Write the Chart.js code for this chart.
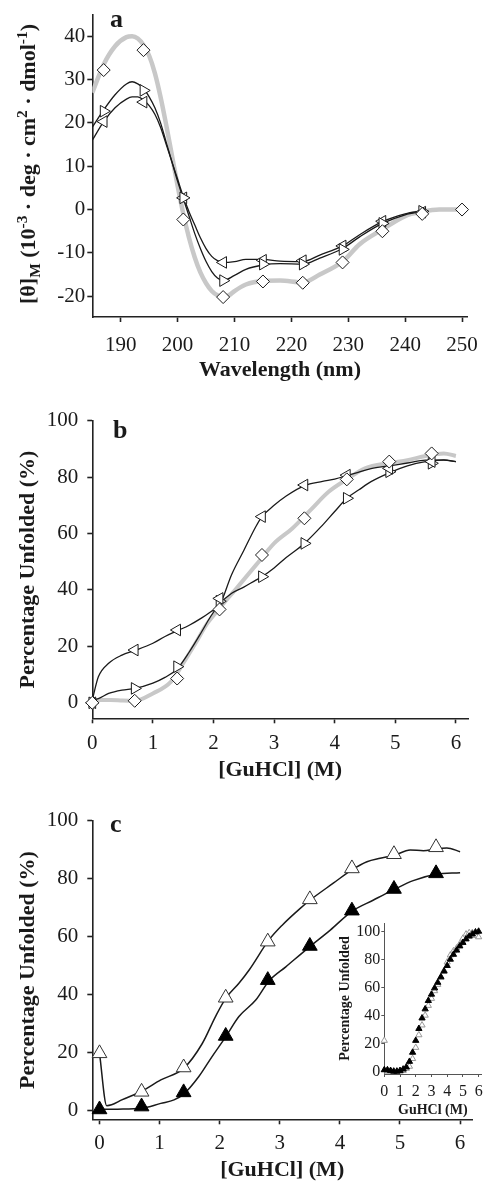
<!DOCTYPE html>
<html>
<head>
<meta charset="utf-8">
<script src="https://cdn.jsdelivr.net/npm/chart.js@4.4.1/dist/chart.umd.min.js"></script>
<style>
  html, body { margin: 0; padding: 0; background: #fff; }
  #wrap { position: relative; width: 489px; height: 1184px; overflow: hidden; }
  #wrap canvas { position: absolute; left: 0; top: 0; }
  .ytitle {
    position: absolute; white-space: nowrap; line-height: 1; color: #1a1a1a;
    font: bold 22px 'Liberation Serif', serif;
    transform: translate(-50%, -50%) rotate(-90deg);
  }
  .ytitle sub, .ytitle sup { font-size: 70%; line-height: 0; }
</style>
</head>
<body>
<div id="wrap">
  <canvas id="chart-a" width="489" height="1184"></canvas>
  <canvas id="chart-b" width="489" height="1184"></canvas>
  <canvas id="chart-c" width="489" height="1184"></canvas>
  <canvas id="chart-inset" width="489" height="1184"></canvas>
  <div class="ytitle" style="left:28px; top:164px;">[θ]<sub>M</sub> (10<sup>-3</sup> · deg · cm<sup>2</sup> · dmol<sup>-1</sup>)</div>
</div>
<script>
'use strict';

/* ── a: CD spectra ─────────────────────────────── */
const aXTicks = [190, 200, 210, 220, 230, 240, 250];
const aYTicks = [-20, -10, 0, 10, 20, 30, 40];

const aGreyX = [185,187,189,191,192,193,194,195,196,197,198,199,200,201,202,203,204,205,206,207,208,209,210,212,215,218,222,225,229,232,236,240,243,246,250];
const aGreyY = [27,33.5,37.7,39.8,40,39.5,38,35.5,31.5,26,19.5,12.5,5.5,-1,-6.5,-11,-14.5,-17,-18.8,-19.8,-20.2,-19.8,-18.8,-17.3,-16.5,-16.4,-16.8,-15,-12,-8,-4.6,-1.5,-0.5,0,0];

const aBlackX = [185,187,189,191,192,193,194,195,196,197,198,199,200,201,202,203,204,205,206,207,208,210,212,215,218,222,225,229,232,236,240,243];
const aRightY = [19,23,26.5,29,29.5,29,28,26,23.5,20,15.5,11,6.5,2.5,-1.5,-5.5,-9,-12,-14.3,-15.8,-16.4,-15.2,-13.8,-12.8,-12.5,-12.6,-11.2,-9,-6.3,-3.2,-1.2,-0.4];
const aLeftY  = [16,20.3,23.5,25.5,26,26,25.3,24,22,19,15,11,7,3,-0.5,-3.5,-6.5,-9,-10.8,-11.8,-12.2,-12,-11.5,-11.5,-11.9,-12,-10.5,-8.4,-5.8,-2.8,-1,-0.3];

const aMarkX      = [187, 194, 201, 208, 215, 222, 229, 236, 243, 250];
const aDiamondY   = [32.2, 36.8, -2.3, -20.2, -16.6, -16.9, -12.2, -5.0, -1.0, 0];
const aRightMarkY = [22.7, 27.5, 2.7, -16.4, -12.6, -12.6, -9.2, -3.2, -0.4];
const aLeftMarkY  = [20.3, 24.8, 2.7, -12.2, -11.7, -11.8, -8.4, -2.7, -0.6];

/* ── b: GuHCl denaturation ─────────────────────── */
const gXTicks = [0, 1, 2, 3, 4, 5, 6];
const gYTicks = [0, 20, 40, 60, 80, 100];

const bBlackX = [0,0.1,0.27,0.49,0.7,1.0,1.2,1.4,1.6,1.8,1.95,2.1,2.3,2.5,2.7,2.8,3.0,3.2,3.5,3.8,4.0,4.2,4.4,4.6,4.9,5.2,5.5,5.8,6.0];
const bLeftY  = [1,9.2,14,16.9,18.5,21.1,23.5,25.5,27.5,30,32.2,34.6,45.5,54,62.5,66,70,73.3,77,78.5,79.3,80.5,81.8,83,84,85,86,86,85.5];
const bRightY = [1,1.5,3.3,4.5,5.1,7,9,12,18,25,30.5,35,38.8,41,43.5,44.7,47.8,51.5,56.5,63,67.8,72.5,75.5,78.4,81.5,84,85.5,86.1,85.5];
const bGreyX  = [0,0.3,0.5,0.7,1.0,1.3,1.5,1.7,1.9,2.1,2.4,2.7,3.0,3.3,3.6,3.9,4.2,4.5,4.9,5.2,5.5,5.8,6.0];
const bGreyY  = [1,1,0.8,0.7,3.3,7.5,14,21,28.2,33.5,41.1,48.8,56.5,61.8,68.3,74.8,79.2,83.1,85,86,87.5,88.4,87.5];

const bMarkX      = [0, 0.7, 1.4, 2.1, 2.8, 3.5, 4.2, 4.9, 5.6];
const bLeftMarkY  = [0, 18.7, 25.8, 37, 66, 77.2, 80.7, 83.1, 85.5];
const bRightMarkY = [0, 5.1, 12.8, 36, 44.7, 56.5, 72.5, 81.9, 84.9];
const bDiamondY   = [0, 0.7, 8.6, 33.1, 52.4, 65.4, 79.2, 85.5, 88.4];

/* ── c: open / filled triangles ────────────────── */
const cOpenX  = [0,0.12,0.2,0.37,0.7,1.02,1.4,1.71,1.93,2.1,2.32,2.49,2.82,3.04,3.34,3.5,3.89,4.2,4.45,4.67,4.9,5.17,5.39,5.6,5.78,6.0];
const cOpenY  = [19.6,1.5,1.8,3.5,6.5,10.4,14.4,23,32.3,38.6,43.8,48.4,58.8,63.9,69.7,72.5,78.4,83,85.8,87,88,89.9,89.6,90.3,90.6,89.3];
const cFillX  = [0,0.3,0.7,1.02,1.24,1.4,1.65,1.87,2.1,2.32,2.6,2.82,3.1,3.5,3.84,4.2,4.56,4.9,5.22,5.6,6.0];
const cFillY  = [0.2,0.3,0.6,2.3,3.5,5.5,11.5,18.4,25.3,32.3,38,44.6,49.5,56.5,62.2,68.7,72.6,76.2,79.3,81.5,82];

const cMarkX      = [0, 0.7, 1.4, 2.1, 2.8, 3.5, 4.2, 4.9, 5.6];
const cOpenMarkY  = [19.6, 6.3, 14.7, 38.8, 58.2, 72.8, 83.5, 88.4, 90.8];
const cFillMarkY  = [0.2, 1.2, 6.1, 25.6, 44.9, 56.7, 68.9, 76.4, 81.8];

/* ── inset ─────────────────────────────────────── */
const iX     = [0,0.2,0.4,0.6,0.8,1.0,1.2,1.4,1.6,1.8,2.0,2.2,2.4,2.6,2.8,3.0,3.2,3.4,3.6,3.8,4.0,4.2,4.4,4.6,4.8,5.0,5.2,5.4,5.6,5.8,6.0];
const iFillY = [1,1,0.5,0,0,0.5,1.5,3,7,13.5,22,30.5,38,44.5,50.5,55,59.5,63.5,67.5,71.5,75.5,80,83.5,86.5,89.5,92,94.5,96.5,98,99.5,100];
const iOpenY = [22,0,0,0,0,0,0.5,2,3.5,9,17,26,33,40,47,52,57.5,62,67,72,78,83,86,88,91,95,98,99,99,97,96];

/* ════════════════════════════════════════════════ */
const SERIF = "'Liberation Serif', 'Times New Roman', serif";
const INK   = '#1a1a1a';
const GREY  = '#c8c8c8';
const W = 489, H = 1184;

const pts = (xs, ys) => ys.map((y, i) => ({ x: xs[i], y }));

const panelLabel = {
    id: 'panelLabel',
    afterDraw(chart, args, opts) {
        if (!opts || !opts.text) return;
        const ctx = chart.ctx;
        ctx.save();
        ctx.font = 'bold 26px ' + SERIF;
        ctx.fillStyle = INK;
        ctx.textBaseline = 'alphabetic';
        ctx.fillText(opts.text, opts.x, opts.y);
        ctx.restore();
    }
};

function lineSet(xs, ys, color, width, order) {
    return { data: pts(xs, ys), borderColor: color, borderWidth: width, pointRadius: 0,
             cubicInterpolationMode: 'monotone', fill: false, order };
}

function markSet(xs, ys, style, rot, r, fillCol, lineCol, bw) {
    return { data: pts(xs, ys), showLine: false, clip: false, pointStyle: style, pointRotation: rot,
             pointRadius: r, pointBackgroundColor: fillCol, pointBorderColor: lineCol,
             pointBorderWidth: bw, order: 0 };
}

// area: page coordinates of the plot box; xh = height of x-axis band
function panel(id, area, s, datasets, label) {
    const padLeft = area.padLeft || 0;
    const axisCol = s.axisColor || '#222';
    return new Chart(document.getElementById(id), {
        type: 'line',
        data: { datasets },
        options: {
            responsive: false,
            animation: false,
            events: [],
            layout: { padding: { left: padLeft, top: area.top, right: W - area.right, bottom: H - area.bottom - area.xh } },
            plugins: { legend: { display: false }, tooltip: { enabled: false }, panelLabel: label || {} },
            scales: {
                x: {
                    type: 'linear', min: s.xMin, max: s.xMax,
                    afterBuildTicks: sc => { sc.ticks = s.xTicks.map(v => ({ value: v })); },
                    afterFit: sc => { sc.height = area.xh; },
                    border: { display: true, color: axisCol, width: s.axisWidth },
                    grid: { display: true, drawOnChartArea: false, drawTicks: true, tickLength: s.tick, tickColor: axisCol, tickWidth: s.axisWidth },
                    ticks: { font: { family: SERIF, size: s.font }, color: INK, padding: s.xPad, maxRotation: 0, autoSkip: false },
                    title: { display: true, text: s.xTitle, color: INK, padding: { top: 0, bottom: 0 },
                             font: { family: SERIF, size: s.titleFont, weight: 'bold' } }
                },
                y: {
                    type: 'linear', min: s.yMin, max: s.yMax,
                    afterBuildTicks: sc => { sc.ticks = s.yTicks.map(v => ({ value: v })); },
                    afterFit: sc => { sc.width = area.left - padLeft; },
                    border: { display: true, color: axisCol, width: s.axisWidth },
                    grid: { display: true, drawOnChartArea: false, drawTicks: true, tickLength: s.tick, tickColor: axisCol, tickWidth: s.axisWidth },
                    ticks: { font: { family: SERIF, size: s.font }, color: INK, padding: s.yPad, autoSkip: false },
                    title: { display: !!s.yTitle, text: s.yTitle || '', color: INK, padding: { top: s.yTitlePad, bottom: 0 },
                             font: { family: SERIF, size: s.titleFont, weight: 'bold' } }
                }
            }
        },
        plugins: [panelLabel]
    });
}

/* panel a */
panel('chart-a',
    { left: 92.3, top: 11.7, right: 474.4, bottom: 317, xh: 66.2 },
    { xMin: 185, xMax: 251, yMin: -24.8, yMax: 45, xTicks: aXTicks, yTicks: aYTicks,
      font: 21, titleFont: 22, tick: 5, axisWidth: 1.6, xPad: 11, yPad: 2,
      xTitle: 'Wavelength (nm)', yTitle: null },
    [
        markSet(aMarkX, aDiamondY, 'rectRot', 0, 6.5, '#fff', INK, 1),
        markSet(aMarkX, aRightMarkY, 'triangle', 90, 6.7, '#fff', INK, 1),
        markSet(aMarkX, aLeftMarkY, 'triangle', 270, 6.7, '#fff', INK, 1),
        lineSet(aBlackX, aRightY, INK, 1.3, 1),
        lineSet(aBlackX, aLeftY, INK, 1.3, 1),
        lineSet(aGreyX, aGreyY, GREY, 4.5, 2)
    ],
    { text: 'a', x: 110, y: 27 });

/* panel b */
panel('chart-b',
    { left: 92.3, top: 420.7, right: 468, bottom: 718.3, xh: 64.9 },
    { xMin: 0, xMax: 6.2, yMin: -5.5, yMax: 100, xTicks: gXTicks, yTicks: gYTicks,
      font: 21, titleFont: 22, tick: 5, axisWidth: 1.6, xPad: 8, yPad: 9,
      xTitle: '[GuHCl] (M)', yTitle: 'Percentage Unfolded (%)', yTitlePad: 15 },
    [
        markSet(bMarkX, bDiamondY, 'rectRot', 0, 6.5, '#fff', INK, 1),
        markSet(bMarkX, bLeftMarkY, 'triangle', 270, 6.7, '#fff', INK, 1),
        markSet(bMarkX, bRightMarkY, 'triangle', 90, 6.7, '#fff', INK, 1),
        lineSet(bBlackX, bLeftY, INK, 1.3, 1),
        lineSet(bBlackX, bRightY, INK, 1.3, 1),
        lineSet(bGreyX, bGreyY, GREY, 4, 2)
    ],
    { text: 'b', x: 113, y: 438 });

/* panel c */
panel('chart-c',
    { left: 92.3, top: 820.7, right: 472.1, bottom: 1119.3, xh: 63.9 },
    { xMin: -0.12, xMax: 6.2, yMin: -3.2, yMax: 100, xTicks: gXTicks, yTicks: gYTicks,
      font: 21, titleFont: 22, tick: 5, axisWidth: 1.6, xPad: 7, yPad: 9,
      xTitle: '[GuHCl] (M)', yTitle: 'Percentage Unfolded (%)', yTitlePad: 15 },
    [
        markSet(cMarkX, cOpenMarkY, 'triangle', 0, 8.5, '#fff', '#333', 1),
        markSet(cMarkX, cFillMarkY, 'triangle', 0, 8.5, '#000', '#000', 1),
        lineSet(cOpenX, cOpenY, INK, 1.5, 1),
        lineSet(cFillX, cFillY, INK, 1.5, 1)
    ],
    { text: 'c', x: 110, y: 832 });

/* inset */
panel('chart-inset',
    { left: 384.3, padLeft: 335, top: 923, right: 481.3, bottom: 1074, xh: 45 },
    { xMin: 0, xMax: 6.17, yMin: -1.9, yMax: 106, xTicks: gXTicks, yTicks: gYTicks,
      font: 16, titleFont: 14, tick: 3, axisWidth: 1, axisColor: '#555', xPad: 5, yPad: 1,
      xTitle: 'GuHCl (M)', yTitle: 'Percentage Unfolded', yTitlePad: 2 },
    [
        markSet(iX, iFillY, 'triangle', 0, 3.6, '#000', '#000', 1),
        markSet(iX, iOpenY, 'triangle', 0, 3.6, '#fff', '#999', 1)
    ]);
</script>
</body>
</html>
